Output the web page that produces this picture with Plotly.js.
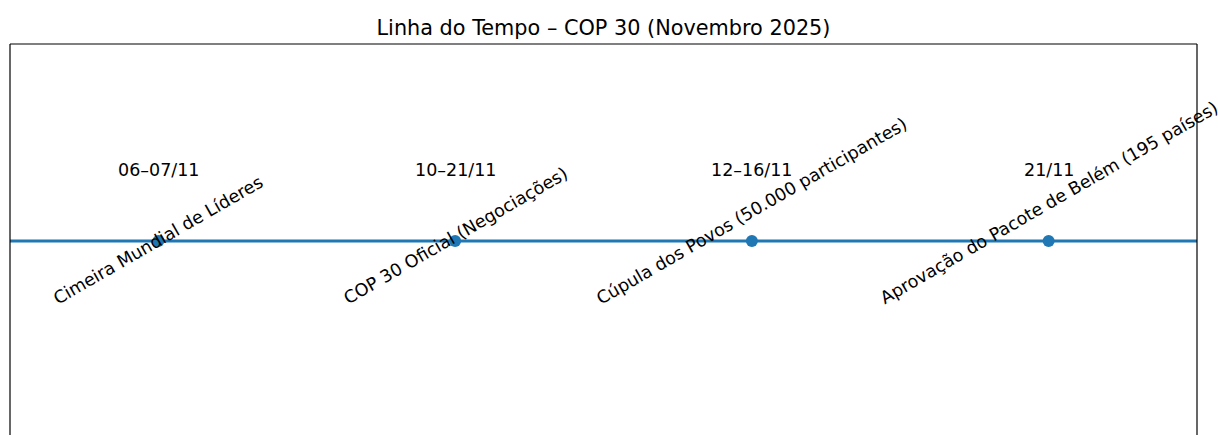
<!DOCTYPE html>
<html>
<head>
<meta charset="utf-8">
<script src="https://cdn.plot.ly/plotly-3.0.1.min.js"></script>
<style>html,body{margin:0;padding:0;background:#fff;}#chart{width:1218px;height:435px;}</style>
</head>
<body>
<div id="chart"></div>
<script>
var positions = [0, 1, 2, 3];
var events = [
  "Cimeira Mundial de Líderes",
  "COP 30 Oficial (Negociações)",
  "Cúpula dos Povos (50.000 participantes)",
  "Aprovação do Pacote de Belém (195 países)"
];
var dates = ["06–07/11", "10–21/11", "12–16/11", "21/11"];
var baseline = [0, 0, 0, 0];
var dateLevel = 0.36;
var eventLevel = -0.355;

var blue = "#1f77b4";
var font = "DejaVu Sans, sans-serif";

var annotations = [];
for (var i = 0; i < positions.length; i++) {
  annotations.push({
    x: positions[i], y: dateLevel, xref: "x", yref: "y",
    text: dates[i], showarrow: false,
    xanchor: "center", yanchor: "middle",
    font: {family: font, size: 17.5, color: "#000"}
  });
  annotations.push({
    x: positions[i], y: eventLevel, xref: "x", yref: "y",
    text: events[i], showarrow: false, textangle: -30,
    xanchor: "center", yanchor: "bottom",
    font: {family: font, size: 17.5, color: "#000"}
  });
}

var traces = [{
  x: positions, y: baseline, type: "scatter", mode: "markers",
  marker: {color: blue, size: 12},
  hoverinfo: "skip", showlegend: false, cliponaxis: false
}];

var layout = {
  width: 1218, height: 435,
  margin: {l: 10, r: 21, t: 44, b: 0},
  paper_bgcolor: "#fff", plot_bgcolor: "#fff",
  title: {text: "Linha do Tempo – COP 30 (Novembro 2025)", x: 0.5, xref: "paper",
          y: 1, yref: "container", yanchor: "top", pad: {t: 20},
          font: {family: font, size: 20.8, color: "#000"}},
  xaxis: {range: [-0.5, 3.5], showgrid: false, zeroline: false, showticklabels: false, ticks: "", showline: false, fixedrange: true},
  yaxis: {range: [-0.985, 1], showgrid: false, zeroline: false, showticklabels: false, ticks: "", showline: false, fixedrange: true},
  shapes: [
    {type: "line", xref: "paper", yref: "y", x0: 0, x1: 1, y0: 0, y1: 0, line: {color: blue, width: 2.8}, layer: "below"},
    {type: "line", xref: "paper", yref: "paper", x0: 0, x1: 0, y0: 0, y1: 1, line: {color: "#000", width: 1.2}},
    {type: "line", xref: "paper", yref: "paper", x0: 1, x1: 1, y0: 0, y1: 1, line: {color: "#000", width: 1.2}},
    {type: "line", xref: "paper", yref: "paper", x0: 0, x1: 1, y0: 1, y1: 1, line: {color: "#000", width: 1.2}}
  ],
  annotations: annotations,
  showlegend: false
};

Plotly.newPlot("chart", traces, layout, {displayModeBar: false, staticPlot: true});
</script>
</body>
</html>
